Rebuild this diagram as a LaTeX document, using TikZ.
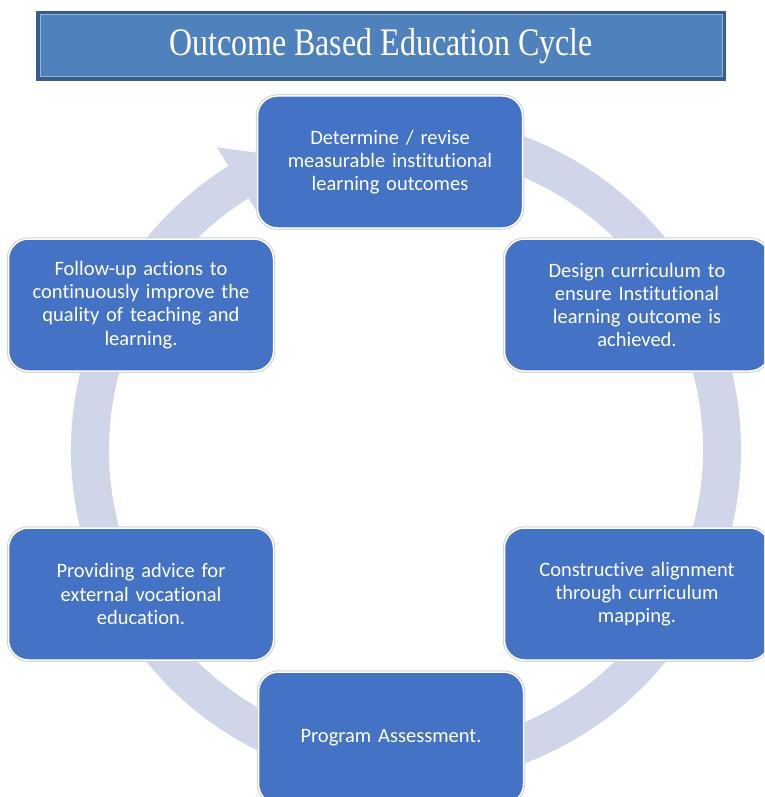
\documentclass[tikz,border=0pt]{standalone}
\usepackage{fontspec}
\usepackage{tikz}
\newfontfamily\stagefont[Ligatures={NoCommon}]{Carlito}
\newfontfamily\titlefont[FakeStretch=0.82]{Liberation Serif}
\definecolor{boxblue}{RGB}{68,114,196}
\definecolor{titleblue}{RGB}{79,129,189}
\definecolor{titleedge}{RGB}{56,93,138}
\definecolor{ringcol}{RGB}{207,214,234}
\tikzset{
  stagebox/.style={rectangle, rounded corners=20pt, fill=boxblue, draw=white,
    line width=1.5pt, minimum width=265pt, minimum height=132pt,
    text width=250pt, align=center, text=white, inner sep=0pt,
    font=\stagefont\fontsize{20.5}{23.2}\selectfont,
    preaction={draw=black!18, line width=3.5pt}},
  titlebox/.style={rectangle, fill=titleblue, draw=titleedge, line width=4pt,
    minimum width=686pt, minimum height=66pt, text=white,
    font=\titlefont\fontsize{39}{42}\selectfont}
}
\begin{document}
\begin{tikzpicture}[x=1pt,y=1pt]
\useasboundingbox (0,0) rectangle (764,-797);
\clip (0,0) rectangle (764,-797);

% title
\node[titlebox] (title) at (381,-46) {Outcome Based Education Cycle};
\draw[white!40!titleblue, line width=1pt] ([shift={(4,-4)}]title.north west) rectangle ([shift={(-4,4)}]title.south east);

% circular arrow
\begin{scope}[shift={(406,-450)}]
\fill[ringcol] (78:335) arc[start angle=78, end angle=-238, radius=335]
  -- (122:357) -- (112:316) -- (122:277)
  -- (-238:297) arc[start angle=-238, end angle=78, radius=297] -- cycle;
\end{scope}

% stages
\node[stagebox] (revise) at (390,-162) {Determine / revise\\measurable institutional\\learning outcomes};
\node[stagebox] (design) at (637,-305) {Design curriculum to\\ensure Institutional\\learning outcome is\\achieved.};
\node[stagebox] (align) at (637,-594) {Constructive alignment\\through curriculum\\mapping.};
\node[stagebox] (assess) at (391,-738) {Program Assessment.};
\node[stagebox] (advice) at (141,-594) {Providing advice for\\external vocational\\education.};
\node[stagebox] (follow) at (141,-305) {Follow-up actions to\\continuously improve the\\quality of teaching and\\learning.};
\end{tikzpicture}
\end{document}
